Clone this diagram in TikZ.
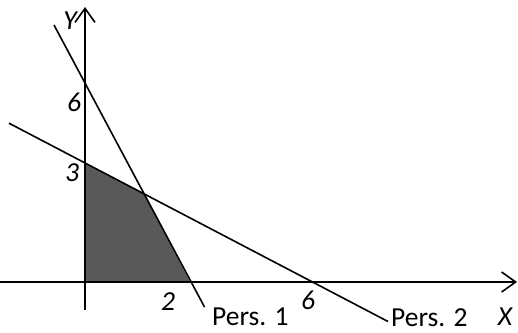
\documentclass[tikz,border=0pt]{standalone}
\usepackage{fontspec}
\setmainfont{Carlito}
\usetikzlibrary{arrows.meta}
\begin{document}
\begin{tikzpicture}[x=1pt,y=-1pt,
  axis/.style={line width=1.7pt,-{Straight Barb[length=14pt,width=20pt,line width=1.6pt]}},
  graphline/.style={line width=1.6pt},
  lbl/.style={inner sep=0pt,font=\fontsize{27.5}{27.5}\selectfont\itshape},
  plbl/.style={inner sep=0pt,anchor=base west,font=\fontsize{27.5}{27.5}\selectfont}]
\useasboundingbox (0,0) rectangle (518,332);
% coordinates
\coordinate (O) at (85,282);
\coordinate (ytop) at (85,7);
\coordinate (ybot) at (85,310);
\coordinate (xl) at (0,282);
\coordinate (xr) at (517,282);
\coordinate (y3) at (85,163);
\coordinate (P) at (144,194);
\coordinate (x2) at (190,282);
\coordinate (l1a) at (54,25);
\coordinate (l1b) at (204.5,307);
\coordinate (l2a) at (9,123.2);
\coordinate (l2b) at (388,321.5);
% shaded region
\fill[black!65] (O) -- (y3) -- (P) -- (x2) -- cycle;
% lines
\draw[graphline] (l1a) -- (l1b);
\draw[graphline] (l2a) -- (l2b);
% axes
\draw[axis] (ybot) -- (ytop);
\draw[axis] (xl) -- (xr);
% labels
\node[lbl] (ly) at (70,21) {Y};
\node[lbl] (l6y) at (74,102) {6};
\node[lbl] (l3y) at (72,173) {3};
\node[lbl] (l2x) at (168,302) {2};
\node[lbl] (l6x) at (308,300) {6};
\node[lbl] (lx) at (505,317) {X};
\node[plbl] (p1) at (212,325) {Pers. 1};
\node[plbl] (p2) at (391,326) {Pers. 2};
\end{tikzpicture}
\end{document}
